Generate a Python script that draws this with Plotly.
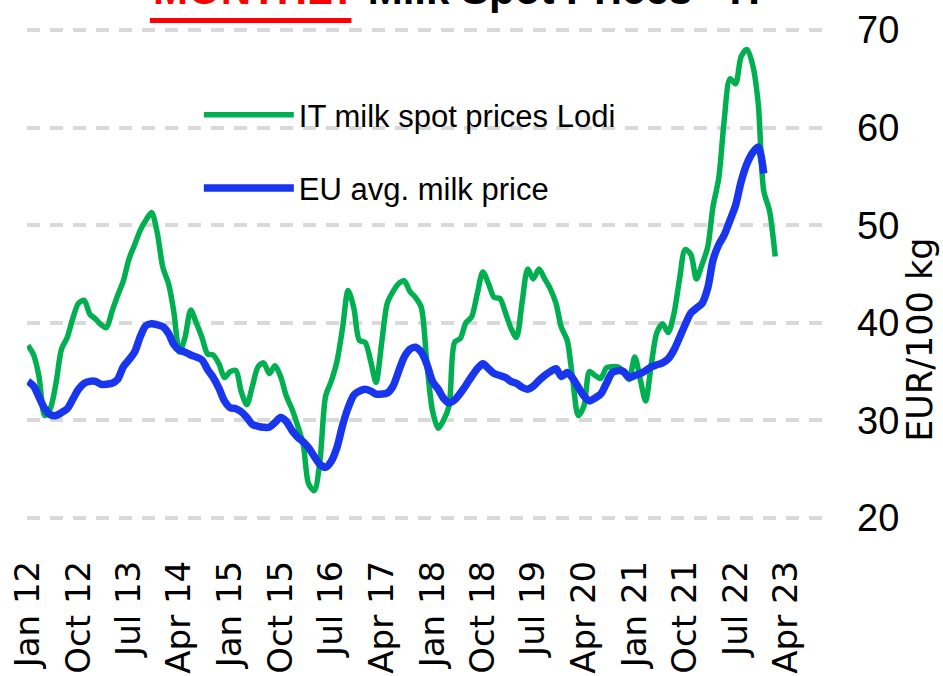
import pandas as pd
import plotly.graph_objects as go

# ---- data (monthly) ----
it_start = "2012-01-01"
it_lodi = [
    37.7, 36.7, 34.5, 30.5, 31.2, 33.8, 37.3, 38.5, 40.5, 42.0, 42.3, 40.9,
    40.4, 39.8, 39.5, 41.2, 42.8, 44.3, 46.5, 48.0, 49.5, 50.5, 51.3, 49.3,
    45.7, 44.0, 41.2, 37.0, 38.5, 41.3, 40.0, 38.5, 36.8, 36.7, 35.8, 34.4,
    35.0, 35.1, 33.0, 31.6, 33.5, 35.5, 35.9, 34.8, 35.6, 34.5, 32.5, 31.2,
    29.5, 27.5, 23.5, 22.8, 25.8, 32.5, 34.0, 36.0, 39.5, 43.3, 41.5, 38.2,
    38.0, 36.0, 33.9, 38.0, 42.0, 43.2, 44.0, 44.3, 43.2, 42.6, 41.6, 36.0,
    31.0, 29.2, 30.0, 31.5, 38.0, 38.4, 40.0, 40.6, 43.0, 45.2, 44.0, 42.6,
    42.5, 41.0, 39.5, 38.5, 42.0, 45.5, 44.5, 45.5, 44.5, 43.5, 42.0, 39.5,
    38.2, 34.0, 30.5, 31.5, 35.0, 34.6, 34.3, 35.4, 35.5, 35.5, 35.0, 34.2,
    36.5, 34.1, 32.0, 35.8, 39.0, 39.9, 39.0, 40.9, 44.5, 47.5, 47.0, 44.5,
    46.0, 47.8, 51.9, 54.8, 60.8, 65.0, 64.5, 67.3, 68.0, 66.5, 62.5, 53.5,
    51.5, 46.8,
]
eu_avg = [
    34.0, 33.5, 32.4, 31.2, 30.6, 30.5, 30.8, 31.2, 32.2, 33.2, 33.8, 34.0,
    34.0, 33.7, 33.7, 33.8, 34.2, 35.5, 36.2, 37.0, 38.6, 39.7, 39.9, 39.8,
    39.6, 38.9, 37.8, 37.2, 37.0, 36.7, 36.5, 36.2, 35.2, 34.4, 33.3, 32.0,
    31.3, 31.2, 30.9, 30.3, 29.6, 29.4, 29.3, 29.3, 29.8, 30.3, 29.9, 29.0,
    28.3, 27.8, 27.2, 26.3, 25.5, 25.2, 25.8, 27.2, 29.5, 31.3, 32.6, 33.0,
    33.2, 33.0, 32.7, 32.7, 32.8, 33.5, 35.0, 36.5, 37.3, 37.5, 37.0, 35.8,
    34.0, 33.2, 32.3, 31.8, 32.1, 32.8, 33.6, 34.5, 35.3, 35.8, 35.3, 34.8,
    34.6, 34.4, 34.0, 33.8, 33.4, 33.2, 33.5, 34.1, 34.6, 35.0, 35.3, 34.5,
    34.9, 34.3, 33.4, 32.5, 32.0, 32.3, 32.7, 33.8, 34.9, 35.1, 35.0, 34.4,
    34.6, 34.8, 35.1, 35.5, 35.7, 35.9, 36.3, 37.2, 38.5, 39.8, 41.0, 41.5,
    42.0, 43.6, 46.4, 48.0, 49.0, 50.5, 52.0, 54.5, 56.3, 57.4, 58.0, 55.3,
]
y_ticks = [20, 30, 40, 50, 60, 70]
series_names = ["IT milk spot prices Lodi", "EU avg. milk price"]
title_red = "MONTHLY"
title_rest = "Milk Spot Prices - IT"
y_title = "EUR/100 kg"

it_dates = pd.date_range(it_start, periods=len(it_lodi), freq="MS")
eu_dates = pd.date_range(it_start, periods=len(eu_avg), freq="MS")

NARROW = "Liberation Sans, Arial, sans-serif"
WIDE = "DejaVu Sans, Verdana, sans-serif"

fig = go.Figure()
fig.add_trace(go.Scatter(
    x=it_dates, y=it_lodi, name=series_names[0], mode="lines",
    line=dict(color="#00B050", width=5.5, shape="spline", smoothing=0.8),
    legendgroup="a",
))
fig.add_trace(go.Scatter(
    x=eu_dates, y=eu_avg, name=series_names[1], mode="lines",
    line=dict(color="#1836EE", width=7.5, shape="spline", smoothing=0.8),
    legendgroup="b",
))

fig.update_layout(
    width=943, height=676,
    margin=dict(l=27, r=113, t=28, b=156),
    paper_bgcolor="white", plot_bgcolor="white",
    showlegend=True,
    legend=dict(
        x=0.214, y=0.878, xanchor="left", yanchor="top",
        font=dict(family=NARROW, size=31, color="black"),
        bgcolor="rgba(0,0,0,0)", itemwidth=90, tracegroupgap=30,
        traceorder="grouped",
    ),
    xaxis=dict(
        type="date",
        range=["2011-12-27", "2023-11-25"],
        tick0="2012-01-01", dtick="M9", tickformat="%b %y",
        tickangle=-90,
        tickfont=dict(family=WIDE, size=34, color="black"),
        showgrid=False, zeroline=False, showline=False,
        ticks="", ticklabelstandoff=33, automargin=False,
        ticklabeloverflow="allow",
    ),
    yaxis=dict(
        side="right", range=[19.8, 70.2], tickvals=y_ticks,
        tickfont=dict(family=NARROW, size=38, color="black"),
        showgrid=True, gridcolor="#D9D9D9", gridwidth=4, griddash="13px,10px",
        zeroline=False, showline=False, ticks="", ticklabelstandoff=26,
        automargin=False, ticklabeloverflow="allow",
    ),
)

fig.add_annotation(
    text="<b><span style='color:#FF0000'>" + title_red + "</span> " + title_rest + "</b>",
    xref="paper", yref="paper", x=0.539, y=1.0264, xanchor="center", yanchor="bottom",
    showarrow=False, font=dict(family=NARROW, size=42, color="black"),
)
fig.add_shape(type="line", xref="paper", yref="paper",
              x0=0.153, x1=0.404, y0=1.0152, y1=1.0152,
              line=dict(color="#FF0000", width=5))
fig.add_annotation(
    text=y_title, textangle=-90,
    xref="paper", yref="paper", x=1.112, y=0.366, xanchor="center", yanchor="middle",
    showarrow=False, font=dict(family=WIDE, size=35, color="black"),
)

fig.write_html(
    "out.html",
    config={"displayModeBar": False},
    post_script="document.body.style.margin='0';document.body.style.overflow='hidden';",
)
